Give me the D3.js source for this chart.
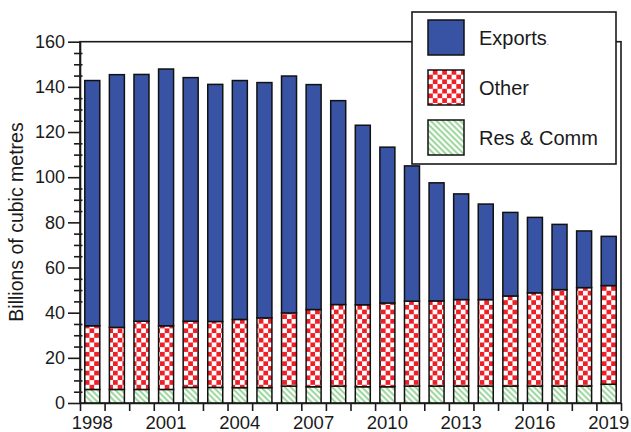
<!DOCTYPE html>
<html>
<head>
<meta charset="utf-8">
<script src="https://cdn.jsdelivr.net/npm/d3@7"></script>
<style>
  body { margin: 0; background: #fff; }
  svg text { font-family: 'Liberation Sans', Arial, Helvetica, sans-serif; fill: #1a1a1a; }
  .axis text { font-size: 18px; }
  .axis path, .axis line { stroke: #1a1a1a; stroke-width: 1.6; }
</style>
</head>
<body>
<div id="chart"></div>
<script>
// data (billions of cubic metres)
var years = ['1998', '1999', '2000', '2001', '2002', '2003', '2004', '2005', '2006', '2007', '2008',
  '2009', '2010', '2011', '2012', '2013', '2014', '2015', '2016', '2017', '2018', '2019']
var resComm = [6.0, 6.0, 6.0, 6.0, 6.9, 6.9, 6.8, 6.8, 7.5, 7.2, 7.5,
  7.2, 7.2, 7.5, 7.5, 7.5, 7.5, 7.5, 7.5, 7.5, 7.5, 8.3]
var other = [28.2, 27.5, 30.2, 28.2, 29.3, 29.2, 30.2, 30.9, 32.4, 34.2, 36.1,
  36.3, 37.1, 37.6, 37.7, 38.3, 38.3, 39.9, 41.3, 42.7, 43.6, 43.7]
var exportsV = [108.6, 111.9, 109.3, 113.7, 107.9, 105.0, 105.8, 104.2, 104.9, 99.6, 90.3,
  79.5, 69.0, 59.9, 52.3, 46.8, 42.3, 37.0, 33.4, 28.9, 25.1, 21.8]
var yTicks = [0, 20, 40, 60, 80, 100, 120, 140, 160]
var xLabelYears = ['1998', '2001', '2004', '2007', '2010', '2013', '2016', '2019']
var seriesNames = ['Exports', 'Other', 'Res & Comm']

var svgWidth = 631
var svgHeight = 432

var margin = { top: 41.7, right: 10, bottom: 29, left: 80 }
var width = svgWidth - margin.left - margin.right
var height = svgHeight - margin.top - margin.bottom

var svg = d3.select('#chart')
  .append('svg')
  .attr('width', svgWidth)
  .attr('height', svgHeight)
  .style('display', 'block')

// fill patterns
var defs = svg.append('defs')

var checker = defs.append('pattern')
  .attr('id', 'checker')
  .attr('patternUnits', 'userSpaceOnUse')
  .attr('width', 9.4)
  .attr('height', 9.4)
  .attr('x', margin.left)
  .attr('y', 0)
checker.append('rect').attr('width', 9.4).attr('height', 9.4).attr('fill', '#fff')
checker.append('rect').attr('width', 4.7).attr('height', 4.7).attr('fill', '#ee1f26')
checker.append('rect').attr('x', 4.7).attr('y', 4.7).attr('width', 4.7).attr('height', 4.7).attr('fill', '#ee1f26')

var hatch = defs.append('pattern')
  .attr('id', 'hatch')
  .attr('patternUnits', 'userSpaceOnUse')
  .attr('width', 4.2)
  .attr('height', 4.2)
  .attr('patternTransform', 'rotate(-45)')
hatch.append('rect').attr('width', 4.2).attr('height', 4.2).attr('fill', '#fff')
hatch.append('line')
  .attr('x1', 1.3).attr('y1', 0).attr('x2', 1.3).attr('y2', 4.2)
  .attr('stroke', '#8fd18f').attr('stroke-width', 1.8)

var chartGroup = svg.append('g')
  .attr('transform', `translate(${margin.left}, ${margin.top})`)

var xScale = d3.scaleBand()
  .domain(years)
  .range([0, width])
  .paddingInner(0.39)
  .paddingOuter(0.195)

var yScale = d3.scaleLinear()
  .domain([0, 160])
  .range([height, 0])

// stack the three series
var table = years.map(function (y, i) {
  return { year: y, res: resComm[i], other: other[i], exports: exportsV[i] }
})
var stack = d3.stack().keys(['res', 'other', 'exports'])(table)
var fills = { res: 'url(#hatch)', other: 'url(#checker)', exports: '#3953a4' }

// plot frame
chartGroup.append('rect')
  .attr('x', 0)
  .attr('y', 0)
  .attr('width', width)
  .attr('height', height)
  .attr('fill', 'none')
  .attr('stroke', '#1a1a1a')
  .attr('stroke-width', 1.6)

stack.forEach(function (layer) {
  chartGroup.append('g')
    .selectAll('rect')
    .data(layer)
    .enter()
    .append('rect')
    .attr('x', d => xScale(d.data.year))
    .attr('y', d => yScale(d[1]))
    .attr('width', xScale.bandwidth())
    .attr('height', d => yScale(d[0]) - yScale(d[1]))
    .attr('fill', fills[layer.key])
    .attr('stroke', '#111')
    .attr('stroke-width', 1.5)
})

// y axis: major ticks outward, minor ticks crossing the axis
var minorTicks = d3.range(0, 161, 5).filter(v => v % 20 !== 0)
chartGroup.append('g')
  .attr('class', 'axis')
  .attr('transform', 'translate(2.5, 0)')
  .call(d3.axisLeft(yScale).tickValues(minorTicks).tickSize(8.5).tickFormat(''))
  .call(g => g.select('.domain').remove())

chartGroup.append('g')
  .attr('class', 'axis')
  .call(d3.axisLeft(yScale).tickValues(yTicks).tickSizeInner(12).tickSizeOuter(0).tickPadding(3))

// x axis: ticks at band boundaries, labels every third year
var step = xScale.step()
var boundaries = d3.range(0, years.length + 1).map(i => i * step)
var xTickScale = d3.scaleLinear().domain([0, width]).range([0, width])
chartGroup.append('g')
  .attr('class', 'axis')
  .attr('transform', `translate(0, ${height})`)
  .call(d3.axisBottom(xTickScale).tickValues(boundaries).tickSizeInner(8).tickSizeOuter(0).tickFormat(''))

chartGroup.append('g')
  .selectAll('text')
  .data(xLabelYears)
  .enter()
  .append('text')
  .attr('x', d => xScale(d) + xScale.bandwidth() / 2)
  .attr('y', height + 26.5)
  .attr('text-anchor', 'middle')
  .style('font-size', '18.5px')
  .text(d => d)

// y axis title
svg.append('text')
  .attr('transform', `translate(23, 222) rotate(-90)`)
  .attr('text-anchor', 'middle')
  .style('font-size', '19.5px')
  .text('Billions of cubic metres')

// legend
var legend = svg.append('g')
  .attr('transform', 'translate(412, 12)')

legend.append('rect')
  .attr('width', 204)
  .attr('height', 152)
  .attr('fill', '#fff')
  .attr('stroke', '#1a1a1a')
  .attr('stroke-width', 1.6)

var legendFills = ['#3953a4', 'url(#checker)', 'url(#hatch)']
var legendItems = legend.selectAll('.item')
  .data(seriesNames)
  .enter()
  .append('g')
  .attr('class', 'item')
  .attr('transform', (d, i) => `translate(16, ${8 + i * 50})`)

legendItems.append('rect')
  .attr('width', 36)
  .attr('height', 35)
  .attr('fill', (d, i) => legendFills[i])
  .attr('stroke', '#111')
  .attr('stroke-width', 1.5)

var legendText = legendItems.append('text')
  .attr('x', 51)
  .attr('y', 25)
  .style('font-size', '20px')
  .text(d => d)

legendText.filter((d, i) => i === 0)
  .append('tspan')
  .style('font-size', '8px')
  .text('.')
</script>
</body>
</html>
